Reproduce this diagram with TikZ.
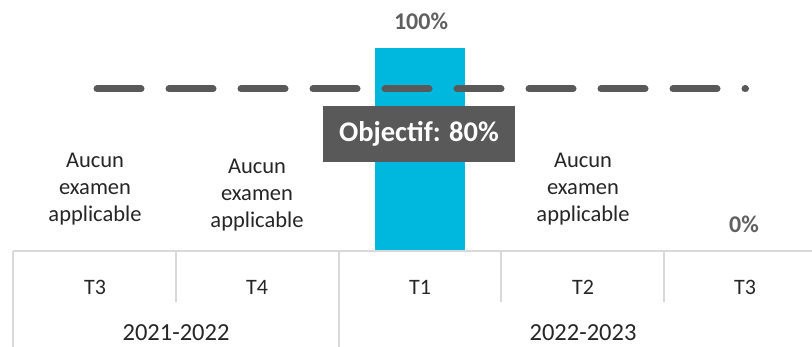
\documentclass[tikz,border=0pt]{standalone}
\usepackage{fontspec}
\setmainfont{Carlito}
\usepackage{tikz}
\definecolor{barcyan}{RGB}{0,183,222}
\definecolor{darkgrey}{RGB}{89,89,89}
\definecolor{gridgrey}{RGB}{217,217,217}
\definecolor{labelgrey}{RGB}{96,96,96}

\begin{document}
\begin{tikzpicture}[x=1pt,y=-1pt]
      \tikzstyle{note} = [align=center, font=\fontsize{22.5}{27}\selectfont, text=black!85, inner sep=0pt]
      \tikzstyle{period} = [font=\fontsize{22}{26}\selectfont, text=black!85, inner sep=0pt]
      \tikzstyle{year} = [font=\fontsize{24.5}{28}\selectfont, text=black!85, inner sep=0pt]
      \tikzstyle{pct} = [font=\fontsize{24}{28}\selectfont\bfseries, text=labelgrey, inner sep=0pt]
      \tikzstyle{grid} = [gridgrey, line width=1.5pt]
      \tikzstyle{target} = [darkgrey, line width=7pt, line cap=round, dash pattern=on 44pt off 28pt]

      \useasboundingbox (0,0) rectangle (812,347);
      \node (bar) [fill=barcyan, minimum width=90pt, minimum height=202pt, inner sep=0pt, anchor=south] at (420,250) {};
      \coordinate (goalL) at (97,89);
      \coordinate (goalR) at (745.5,89);
      \draw [target] (goalL) -- (goalR);
      \node (goal) [fill=darkgrey, text=white, font=\fontsize{28.5}{32}\selectfont\bfseries, minimum width=192pt, minimum height=56pt, inner sep=0pt] at (419,134) {Objectif: 80\%};
      \node (top) [pct] at (421,21) {100\%};
      \node (zero) [pct] at (744,224) {0\%};

      \node (na1) [note] at (95,189) {Aucun\\examen\\applicable};
      \node (na2) [note] at (257,195) {Aucun\\examen\\applicable};
      \node (na4) [note] at (583,189) {Aucun\\examen\\applicable};

      \coordinate (axisL) at (13,251);
      \coordinate (axisR) at (812,251);
      \draw [grid] (axisL) -- (axisR);
      \draw [grid] (axisL) -- (13,347);
      \draw [grid] (176,251) -- (176,302);
      \draw [grid] (339,251) -- (339,347);
      \draw [grid] (501,251) -- (501,302);
      \draw [grid] (664,251) -- (664,302);

      \node (q1) [period] at (95,287) {T3};
      \node (q2) [period] at (257,287) {T4};
      \node (q3) [period] at (420,287) {T1};
      \node (q4) [period] at (583,287) {T2};
      \node (q5) [period] at (745,287) {T3};
      \node (y1) [year] at (176,333) {2021-2022};
      \node (y2) [year] at (583,333) {2022-2023};
\end{tikzpicture}
\end{document}
